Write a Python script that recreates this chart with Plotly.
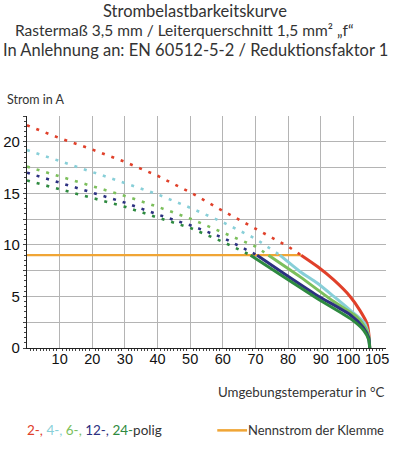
import plotly.graph_objects as go

# temperature (°C) and current (A)
# dotted part = above the nominal current, solid part = permitted range

red_dot_t = [0, 10, 20, 30, 40, 50, 60, 70, 80, 84]
red_dot_i = [21.6, 20.35, 19.25, 18.05, 16.7, 15.1, 13.3, 11.6, 9.85, 9.0]
red_sol_t = [84, 89, 94, 99, 102, 104.2, 104.8, 105]
red_sol_i = [9.0, 7.9, 6.6, 5.0, 3.65, 2.35, 1.2, 0]

lblue_dot_t = [0, 10, 20, 30, 40, 50, 60, 70, 77.5]
lblue_dot_i = [19.2, 18.15, 17.1, 16.0, 14.9, 13.6, 12.2, 10.6, 9.0]
lblue_sol_t = [77.5, 83.7, 88.9, 94, 99.1, 103.2, 104.6, 105]
lblue_sol_i = [9.0, 7.4, 6.3, 5.0, 3.65, 2.5, 1.3, 0]

lgreen_dot_t = [0, 10, 20, 30, 40, 50, 60, 70, 74]
lgreen_dot_i = [17.6, 16.65, 15.7, 14.75, 13.7, 12.55, 11.2, 9.85, 9.0]
lgreen_sol_t = [74, 83.7, 94, 101.1, 103.8, 104.8, 105]
lgreen_sol_i = [9.0, 6.9, 4.5, 3.0, 1.9, 1.0, 0]

navy_dot_t = [0, 10, 20, 30, 40, 50, 60, 70.5]
navy_dot_i = [17.0, 16.05, 15.1, 14.1, 12.95, 11.9, 10.7, 9.0]
navy_sol_t = [70.5, 78.6, 88.9, 99.1, 103, 104.7, 105]
navy_sol_i = [9.0, 7.25, 5.1, 3.2, 2.0, 1.0, 0]

dgreen_dot_t = [0, 10, 20, 30, 40, 50, 60, 68.5]
dgreen_dot_i = [16.25, 15.4, 14.6, 13.7, 12.65, 11.65, 10.3, 9.0]
dgreen_sol_t = [68.5, 78.6, 88.9, 99.1, 103.2, 104.7, 105]
dgreen_sol_i = [9.0, 6.9, 4.8, 2.85, 1.7, 0.8, 0]

nominal_t = [0, 84]
nominal_i = [9, 9]

x_tickvals = [10, 20, 30, 40, 50, 60, 70, 80, 90]
# the last two labels sit close together and are nudged apart
x_end_ticks = [100, 105]
x_end_shift = [-5, 7]
y_tickvals = [0, 2.5, 5, 7.5, 10, 12.5, 15, 17.5, 20, 22.5]
y_ticktext = ["0", "", "5", "", "10", "", "15", "", "20", ""]

series = [
    (red_dot_t, red_dot_i, red_sol_t, red_sol_i, "#e0402a"),
    (lblue_dot_t, lblue_dot_i, lblue_sol_t, lblue_sol_i, "#88cfd8"),
    (lgreen_dot_t, lgreen_dot_i, lgreen_sol_t, lgreen_sol_i, "#7cbf5c"),
    (navy_dot_t, navy_dot_i, navy_sol_t, navy_sol_i, "#2c3080"),
    (dgreen_dot_t, dgreen_dot_i, dgreen_sol_t, dgreen_sol_i, "#2e8a40"),
]

TXT = "#333333"
GRID = "#b4b4b4"
ORANGE = "#f0a535"
TICKFONT = dict(family="Liberation Sans, Arial", size=14.5, color="#111111")

fig = go.Figure()

fig.add_trace(go.Scatter(
    x=nominal_t, y=nominal_i, mode="lines",
    line=dict(color=ORANGE, width=2.2), showlegend=False,
))

for dot_t, dot_i, sol_t, sol_i, col in series:
    fig.add_trace(go.Scatter(
        x=dot_t, y=dot_i, mode="lines", showlegend=False,
        line=dict(color=col, width=2.6, dash="3px,7px"),
    ))
for dot_t, dot_i, sol_t, sol_i, col in series:
    fig.add_trace(go.Scatter(
        x=sol_t, y=sol_i, mode="lines", showlegend=False,
        line=dict(color=col, width=3, shape="spline", smoothing=0.6),
    ))

# invisible trace so the label axis is drawn
fig.add_trace(go.Scatter(x=[0], y=[0], xaxis="x2", mode="markers",
                         marker=dict(opacity=0), showlegend=False, hoverinfo="skip"))

fig.update_layout(
    width=401, height=450,
    margin=dict(l=27, r=15, t=116, b=102),
    paper_bgcolor="white", plot_bgcolor="white",
    font=dict(family="Liberation Sans, Arial", color="#111111"),
    showlegend=False,
    xaxis=dict(
        range=[0, 110], dtick=10, tick0=0, showgrid=True, gridcolor=GRID, gridwidth=1,
        showticklabels=False, showline=True, linecolor="#222222", linewidth=1.2,
        ticks="", zeroline=False, automargin=False,
        minor=dict(dtick=1, ticks="outside", ticklen=2, tickcolor="#444444"),
    ),
    xaxis2=dict(
        overlaying="x", anchor="y", side="bottom", range=[0, 110],
        tickvals=x_tickvals, showgrid=False, zeroline=False,
        ticks="", tickangle=0, tickfont=TICKFONT,
        showline=False, automargin=False,
    ),
    yaxis=dict(
        range=[0, 22.5], tickvals=y_tickvals, ticktext=y_ticktext,
        showgrid=True, gridcolor=GRID, gridwidth=1, zeroline=False,
        showline=True, linecolor="#222222", linewidth=1.2,
        ticks="outside", ticklen=3, tickcolor="#444444", automargin=False,
        tickfont=dict(family="Liberation Sans, Arial", size=15, color="#111111"),
        minor=dict(dtick=0.5, ticks="outside", ticklen=2, tickcolor="#444444"),
    ),
)

for val, shift in zip(x_end_ticks, x_end_shift):
    fig.add_annotation(text=str(val), xref="x", yref="paper", x=val, y=0,
                       xanchor="center", yanchor="top", xshift=shift, yshift=-1,
                       showarrow=False, font=TICKFONT)

title_lines = [
    ("Strombelastbarkeitskurve", 0.468, 1.451, 16.5),
    ("Rastermaß 3,5 mm / Leiterquerschnitt 1,5 mm² „f“", 0.44, 1.369, 15.5),
    ("In Anlehnung an: EN 60512-5-2 / Reduktionsfaktor 1", 0.468, 1.283, 16.5),
]
for txt, xx, yy, sz in title_lines:
    fig.add_annotation(text=txt, xref="paper", yref="paper", x=xx, y=yy,
                       xanchor="center", yanchor="middle", showarrow=False,
                       font=dict(family="Lato", size=sz, color=TXT))

fig.add_annotation(text="Strom in A", xref="paper", yref="paper", x=-0.06, y=1.07,
                   xanchor="left", yanchor="middle", showarrow=False,
                   font=dict(family="Lato", size=12.5, color=TXT))
fig.add_annotation(text="Umgebungstemperatur in °C", xref="paper", yref="paper",
                   x=1.0, y=-0.19, xanchor="right", yanchor="middle", showarrow=False,
                   font=dict(family="Lato", size=13.3, color=TXT))
fig.add_annotation(
    text=("<span style='color:#e0402a'>2-,</span> "
          "<span style='color:#88cfd8'>4-,</span> "
          "<span style='color:#7cbf5c'>6-,</span> "
          "<span style='color:#2c3080'>12-,</span> "
          "<span style='color:#2e8a40'>24-</span>polig"),
    xref="paper", yref="paper", x=-0.006, y=-0.355, xanchor="left", yanchor="middle",
    showarrow=False, font=dict(family="Lato", size=13.5, color=TXT))

# legend key for the nominal current line
fig.add_shape(type="line", xref="paper", yref="paper", x0=0.53, x1=0.613,
              y0=-0.355, y1=-0.355, line=dict(color=ORANGE, width=2.5))
fig.add_annotation(text="Nennstrom der Klemme", xref="paper", yref="paper",
                   x=1.0, y=-0.355, xanchor="right", yanchor="middle", showarrow=False,
                   font=dict(family="Lato", size=13, color=TXT))

# drop the default 8px page margin so the figure sits at the window corner
fig.write_html("out.html", config={"displayModeBar": False},
               post_script="document.body.style.margin='0';")
